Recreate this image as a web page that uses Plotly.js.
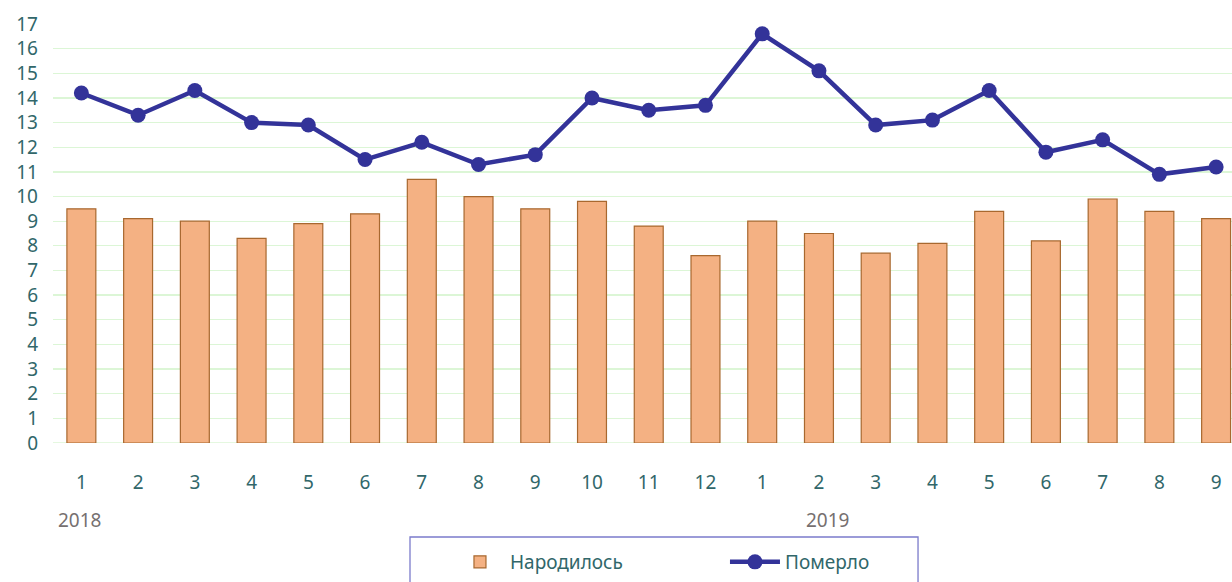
<!DOCTYPE html>
<html>
<head>
<meta charset="utf-8">
<script src="https://cdn.plot.ly/plotly-3.0.1.min.js"></script>
<style>html,body{margin:0;padding:0;background:#fff;}#chart{width:1232px;height:582px;}</style>
</head>
<body>
<div id="chart"></div>
<script>
const months = ["1","2","3","4","5","6","7","8","9","10","11","12","1","2","3","4","5","6","7","8","9"];
const years = ["2018", "2019"];
const born = [9.5, 9.1, 9.0, 8.3, 8.9, 9.3, 10.7, 10.0, 9.5, 9.8, 8.8, 7.6, 9.0, 8.5, 7.7, 8.1, 9.4, 8.2, 9.9, 9.4, 9.1];
const died = [14.2, 13.3, 14.3, 13.0, 12.9, 11.5, 12.2, 11.3, 11.7, 14.0, 13.5, 13.7, 16.6, 15.1, 12.9, 13.1, 14.3, 11.8, 12.3, 10.9, 11.2];
const seriesNames = ["Народилось", "Померло"];
const yTicks = [0,1,2,3,4,5,6,7,8,9,10,11,12,13,14,15,16,17];

const idx = months.map((m, i) => i);
const FONT = "Noto Sans, sans-serif";
const TEAL = "#31676A";
const GRID = "#DCF6D6";

const traces = [
  {
    type: "bar", x: idx, y: born, name: seriesNames[0],
    width: 0.51,
    marker: {color: "#F4B183", line: {color: "#A8682F", width: 1.2}},
    hoverinfo: "y"
  },
  {
    type: "scatter", mode: "lines+markers", x: idx, y: died, name: seriesNames[1],
    line: {color: "#333399", width: 4.5},
    marker: {color: "#333399", size: 15},
    hoverinfo: "y"
  }
];

const layout = {
  width: 1232, height: 582,
  margin: {l: 53, r: 0, t: 24, b: 139},
  paper_bgcolor: "#fff", plot_bgcolor: "#fff",
  font: {family: FONT, size: 19, color: TEAL},
  showlegend: true,
  legend: {
    orientation: "h", x: 0.3367, xanchor: "left", y: -0.284, yanchor: "middle",
    borderwidth: 0, bgcolor: "rgba(0,0,0,0)",
    font: {family: FONT, size: 19, color: TEAL},
    entrywidth: 210, entrywidthmode: "pixels",
    itemwidth: 50
  },
  xaxis: {
    range: [-0.5, 20.28],
    tickvals: idx, ticktext: months,
    showgrid: false, zeroline: false, showline: false,
    ticks: "", ticklabelstandoff: 26,
    tickfont: {family: FONT, size: 19, color: TEAL},
    fixedrange: true
  },
  yaxis: {
    range: [0, 17],
    tickvals: yTicks,
    showgrid: true, gridcolor: GRID, gridwidth: 1.3,
    zeroline: false, showline: false,
    ticks: "", ticklabelstandoff: 14,
    tickfont: {family: FONT, size: 19, color: TEAL},
    fixedrange: true
  },
  shapes: [
    {type: "line", xref: "paper", yref: "y", x0: 0, x1: 1, y0: 0, y1: 0, line: {color: GRID, width: 1.3}, layer: "below"},
    {type: "rect", xref: "paper", yref: "paper", x0: 0.3028, x1: 0.7337, y0: -0.2243, y1: -0.40,
     line: {color: "#7B7BCB", width: 1.3}, fillcolor: "rgba(0,0,0,0)", layer: "above"}
  ],
  annotations: [
    {text: years[0], xref: "x", yref: "paper", x: -0.45, xanchor: "left", y: -0.183, yanchor: "middle", showarrow: false, font: {family: FONT, size: 19, color: "#767070"}},
    {text: years[1], xref: "x", yref: "paper", x: 13.15, xanchor: "center", y: -0.183, yanchor: "middle", showarrow: false, font: {family: FONT, size: 19, color: "#767070"}}
  ]
};

Plotly.newPlot("chart", traces, layout, {displayModeBar: false, staticPlot: true});
</script>
</body>
</html>
